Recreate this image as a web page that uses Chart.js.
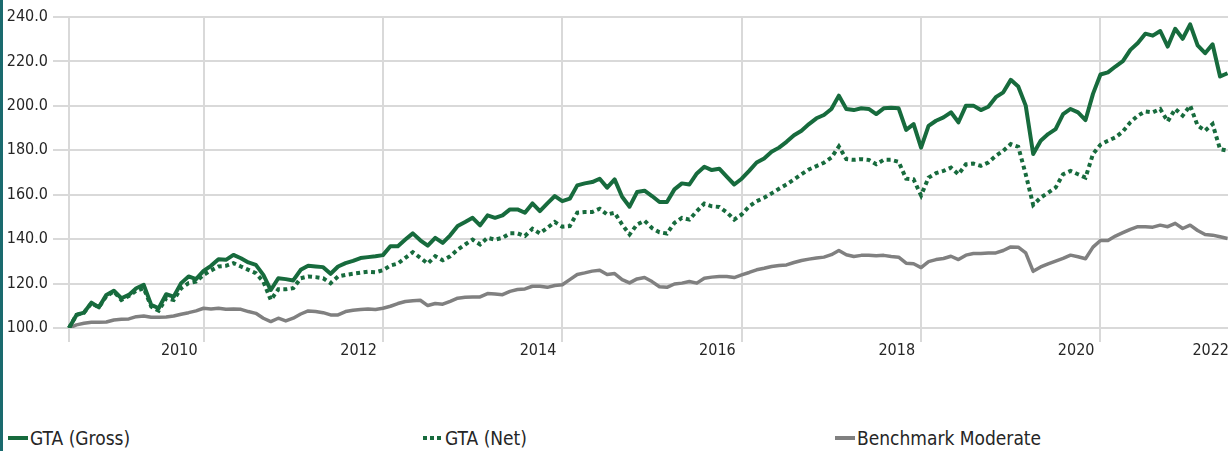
<!DOCTYPE html>
<html>
<head>
<meta charset="utf-8">
<script src="https://cdn.jsdelivr.net/npm/chart.js@4.4.0/dist/chart.umd.min.js"></script>
<style>
    html, body { margin: 0; padding: 0; background: #fff; overflow: hidden; }
    #page { position: relative; width: 1228px; height: 451px; overflow: hidden; }
    #bar { position: absolute; left: 0; top: 0; width: 3px; height: 451px; background: #1a6a6e; }
    #growth-chart { position: absolute; left: 3px; top: 0; }
    #legend { position: absolute; left: 0; top: 425px; width: 1228px; height: 26px; }
    .item { position: absolute; top: 0; height: 26px; display: flex; align-items: center;
            font-family: 'DejaVu Sans Condensed', sans-serif; font-size: 19px; color: #262626; white-space: nowrap; }
    .mark { width: 20px; height: 4px; margin-right: 2px; }
</style>
</head>
<body>
<div id="page">
    <div id="bar"></div>
    <canvas id="growth-chart" width="1233" height="380" style="width:1233px;height:380px"></canvas>
    <div id="legend"></div>
</div>
<script>
// monthly, Jun 2009 .. Jun 2022 (last label is only the axis end)
var months = [];
for (var y = 2009; y <= 2022; y++) {
    for (var m = 1; m <= 12; m++) {
        if ((y === 2009 && m < 6) || (y === 2022 && m > 6)) continue;
        months.push(y + '-' + (m < 10 ? '0' + m : m));
    }
}

var grossValues = [
    100, 105.9, 106.9, 111.4, 109.3, 114.9, 116.8, 113.4, 114.9, 117.9,
    119.4, 110.4, 108.9, 115.2, 114.1, 120.2, 123.2, 122.0, 125.7, 128.0,
    131.0, 130.7, 132.9, 131.4, 129.5, 128.4, 123.9, 117.1, 122.4, 122.0,
    121.4, 126.2, 128.0, 127.7, 127.4, 124.4, 127.7, 129.2, 130.2, 131.5,
    131.9, 132.3, 132.8, 136.8, 136.8, 139.8, 142.6, 139.5, 137.1, 140.6,
    138.3, 141.7, 145.9, 147.7, 149.6, 146.2, 150.7, 149.6, 150.7, 153.4,
    153.4, 151.9, 156.1, 152.6, 156.1, 159.4, 157.1, 158.2, 164.2, 165.1,
    165.7, 167.2, 163.2, 166.9, 159.1, 154.6, 161.2, 161.8, 159.4, 156.7,
    156.7, 162.4, 165.1, 164.6, 169.6, 172.6, 171.1, 171.7, 168.1, 164.6,
    167.2, 170.7, 174.5, 176.3, 179.3, 181.2, 183.8, 186.8, 188.8, 191.8,
    194.4, 195.9, 198.6, 204.6, 198.6, 198.1, 198.9, 198.6, 196.3, 198.9,
    199.2, 198.9, 189.2, 191.8, 181.2, 191.0, 193.3, 194.8, 197.1, 192.6,
    200.1, 200.1, 198.1, 199.6, 203.9, 206.1, 211.7, 208.7, 200.1, 178.3,
    184.3, 187.3, 189.5, 196.3, 198.6, 197.1, 193.6, 205.4, 214.1, 215.1,
    217.7, 220.1, 225.2, 228.3, 232.5, 231.6, 233.7, 226.7, 234.7, 230.2,
    236.7, 227.2, 223.7, 227.7, 213.2, 214.7
];

var netValues = [
    100, 105.9, 106.9, 111.1, 109.3, 114.4, 116.4, 112.6, 114.4, 116.8,
    117.9, 109.6, 107.8, 113.4, 112.6, 117.9, 120.2, 120.9, 123.9, 125.9,
    127.7, 128.0, 129.2, 127.7, 126.2, 124.7, 120.9, 112.6, 117.4, 117.4,
    117.9, 122.4, 123.2, 122.9, 122.4, 120.2, 123.2, 123.9, 124.4, 124.9,
    125.3, 125.1, 126.0, 128.1, 129.0, 131.6, 134.1, 131.6, 129.0, 132.3,
    130.5, 132.3, 135.3, 137.6, 139.8, 137.6, 140.6, 139.8, 140.6, 142.6,
    142.6, 141.4, 144.7, 142.6, 145.1, 147.7, 145.6, 145.9, 151.9, 152.2,
    152.2, 153.7, 151.1, 151.9, 146.6, 142.1, 146.6, 148.3, 145.0, 143.1,
    142.5, 147.3, 149.6, 148.8, 152.6, 156.0, 154.8, 154.5, 152.1, 148.8,
    151.1, 154.8, 157.1, 158.6, 160.6, 162.7, 164.6, 166.9, 169.2, 171.4,
    172.9, 174.4, 176.7, 181.7, 176.0, 175.7, 176.0, 175.7, 173.7, 175.7,
    175.7, 174.8, 167.2, 166.9, 159.7, 167.7, 169.7, 170.7, 172.2, 169.2,
    173.7, 174.0, 173.0, 174.5, 177.5, 179.8, 182.8, 181.6, 169.2, 155.4,
    158.7, 160.9, 163.2, 169.2, 170.7, 169.2, 167.7, 178.3, 182.5, 184.3,
    185.8, 188.5, 192.6, 195.6, 197.5, 197.1, 198.6, 193.0, 198.6, 195.6,
    200.1, 191.1, 188.8, 191.8, 180.5, 179.8
];

var benchmarkValues = [
    100, 101.4, 102.1, 102.6, 102.6, 102.7, 103.6, 103.9, 104.1, 105.1,
    105.4, 104.8, 104.8, 105.0, 105.4, 106.2, 106.9, 107.7, 108.9, 108.6,
    108.9, 108.4, 108.6, 108.4, 107.4, 106.6, 104.4, 102.9, 104.4, 103.2,
    104.4, 106.3, 107.7, 107.4, 106.9, 105.9, 105.9, 107.4, 108.0, 108.3,
    108.6, 108.3, 108.9, 109.8, 111.0, 111.9, 112.3, 112.5, 110.1, 111.0,
    110.7, 112.0, 113.4, 113.8, 114.0, 114.0, 115.5, 115.3, 115.0, 116.5,
    117.3, 117.6, 118.8, 118.8, 118.3, 119.1, 119.5, 121.8, 124.1, 124.8,
    125.6, 126.0, 124.1, 124.5, 121.8, 120.3, 122.1, 122.7, 120.9, 118.6,
    118.3, 119.8, 120.2, 120.9, 120.2, 122.4, 122.9, 123.2, 123.2, 122.7,
    123.9, 125.0, 126.2, 126.9, 127.7, 128.1, 128.4, 129.5, 130.4, 131.0,
    131.5, 131.9, 133.0, 134.9, 133.0, 132.2, 132.7, 132.8, 132.5, 132.7,
    132.2, 131.9, 129.2, 128.9, 127.2, 129.9, 130.8, 131.3, 132.3, 130.8,
    132.8, 133.5, 133.5, 133.8, 133.8, 134.9, 136.5, 136.4, 133.8, 125.5,
    127.5, 128.9, 130.1, 131.3, 132.8, 132.1, 131.2, 136.4, 139.4, 139.4,
    141.4, 142.9, 144.4, 145.6, 145.6, 145.4, 146.3, 145.6, 147.1, 144.8,
    146.3, 143.9, 142.1, 141.8, 141.1, 140.3
];

var seriesNames = ['GTA (Gross)', 'GTA (Net)', 'Benchmark Moderate'];
var yTicks = [100, 120, 140, 160, 180, 200, 220, 240];

var green = '#176b3d';
var grey = '#808080';
var gridColor = '#d9d9d9';
var fontFamily = "'DejaVu Sans Condensed', sans-serif";

// a year label sits just left of the December gridline of even years
function yearLabel(index) {
    var parts = months[index].split('-');
    if (index === months.length - 1) return parts[0];
    if (parts[1] === '12' && parseInt(parts[0]) % 2 === 0) return parts[0];
    return '';
}

function xGridColor(ctx) {
    var i = ctx.index;
    if (i === 0) return gridColor;
    if (i === months.length - 1) return 'rgba(0,0,0,0)';
    return yearLabel(i) ? gridColor : 'rgba(0,0,0,0)';
}

document.addEventListener('DOMContentLoaded', function () {
    var ctx = document.getElementById('growth-chart').getContext('2d');
    var growthChart = new Chart(ctx, {
        type: 'line',
        data: {
            labels: months,
            datasets: [{
                label: seriesNames[0],
                data: grossValues,
                borderColor: green,
                borderWidth: 4,
                pointRadius: 0,
                tension: 0,
                borderJoinStyle: 'round'
            }, {
                label: seriesNames[1],
                data: netValues,
                borderColor: green,
                borderWidth: 4,
                borderDash: [4, 3.5],
                pointRadius: 0,
                tension: 0
            }, {
                label: seriesNames[2],
                data: benchmarkValues,
                borderColor: grey,
                borderWidth: 3.5,
                pointRadius: 0,
                tension: 0,
                borderJoinStyle: 'round'
            }]
        },
        options: {
            responsive: false,
            animation: false,
            layout: { padding: { top: 17, left: 0, right: 0, bottom: 0 } },
            plugins: {
                legend: { display: false },
                tooltip: { enabled: false }
            },
            scales: {
                x: {
                    type: 'category',
                    border: { display: false },
                    grid: {
                        color: xGridColor,
                        lineWidth: 2,
                        drawTicks: true,
                        tickLength: 14
                    },
                    ticks: {
                        autoSkip: false,
                        maxRotation: 0,
                        align: 'end',
                        labelOffset: -6,
                        padding: 1,
                        color: '#262626',
                        font: { family: fontFamily, size: 16, lineHeight: 1 },
                        callback: function (value, index) { return yearLabel(index); }
                    },
                    afterFit: function (scale) { scale.height = 52; }
                },
                y: {
                    min: 100,
                    max: 240,
                    border: { display: false },
                    grid: {
                        color: gridColor,
                        lineWidth: 2,
                        tickLength: 16
                    },
                    afterBuildTicks: function (scale) {
                        scale.ticks = yTicks.map(function (v) { return { value: v }; });
                    },
                    ticks: {
                        padding: 5,
                        color: '#262626',
                        font: { family: fontFamily, size: 16 },
                        callback: function (v) { return Number(v).toFixed(1); }
                    },
                    afterFit: function (scale) { scale.width = 66; }
                }
            }
        }
    });

    // legend below the chart, built from the datasets
    var legendX = [8, 423, 835];
    var legend = document.getElementById('legend');
    growthChart.data.datasets.forEach(function (ds, i) {
        var item = document.createElement('div');
        item.className = 'item';
        item.style.left = legendX[i] + 'px';
        var mark = document.createElement('span');
        mark.className = 'mark';
        if (ds.borderDash) {
            mark.style.background = 'repeating-linear-gradient(to right, ' + ds.borderColor +
                ' 0 4px, transparent 4px 7px)';
        } else {
            mark.style.background = ds.borderColor;
        }
        var text = document.createElement('span');
        text.textContent = ds.label;
        item.appendChild(mark);
        item.appendChild(text);
        legend.appendChild(item);
    });
});
</script>
</body>
</html>
